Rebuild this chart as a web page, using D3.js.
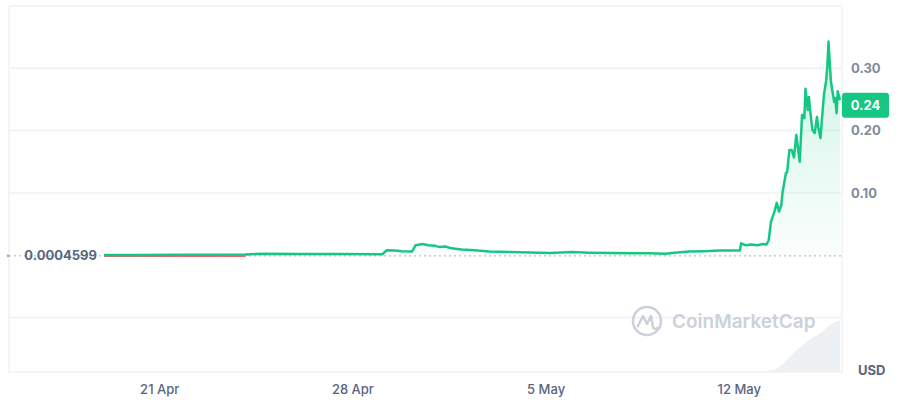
<!DOCTYPE html>
<html><head><meta charset="utf-8">
<script src="https://cdn.jsdelivr.net/npm/d3@7"></script>
<style>
html,body{margin:0;padding:0;background:#fff;}
svg{display:block;font-family:Inter,"Noto Sans",sans-serif;}
</style></head>
<body><svg id="chart" width="900" height="400"></svg>
<script>
// ---- data ----
const priceTimes = ["2024-04-19T00:00","2024-04-20T07:00","2024-04-21T18:00","2024-04-23T05:00","2024-04-24T03:00","2024-04-24T20:00","2024-04-26T02:00","2024-04-27T13:00","2024-04-29T02:00","2024-04-29T06:00","2024-04-29T13:00","2024-04-29T19:00","2024-04-30T04:00","2024-04-30T07:00","2024-04-30T13:00","2024-04-30T18:00","2024-05-01T00:00","2024-05-01T04:00","2024-05-01T09:00","2024-05-01T14:00","2024-05-01T23:00","2024-05-02T10:00","2024-05-02T23:00","2024-05-03T17:00","2024-05-04T10:00","2024-05-05T04:00","2024-05-05T23:00","2024-05-06T14:00","2024-05-07T08:00","2024-05-08T01:00","2024-05-08T18:00","2024-05-09T08:00","2024-05-09T16:00","2024-05-10T05:00","2024-05-10T18:00","2024-05-11T07:00","2024-05-12T01:00","2024-05-12T02:00","2024-05-12T06:00","2024-05-12T11:00","2024-05-12T16:00","2024-05-12T21:00","2024-05-13T00:00","2024-05-13T02:00","2024-05-13T04:00","2024-05-13T07:00","2024-05-13T09:00","2024-05-13T11:00","2024-05-13T13:00","2024-05-13T14:00","2024-05-13T17:00","2024-05-13T18:00","2024-05-13T20:00","2024-05-13T22:00","2024-05-14T00:00","2024-05-14T02:00","2024-05-14T04:00","2024-05-14T05:00","2024-05-14T07:00","2024-05-14T09:00","2024-05-14T10:00","2024-05-14T12:00","2024-05-14T13:00","2024-05-14T14:00","2024-05-14T16:00","2024-05-14T18:00","2024-05-14T20:00","2024-05-14T21:00","2024-05-14T23:00","2024-05-15T02:00","2024-05-15T04:00","2024-05-15T05:00","2024-05-15T06:00","2024-05-15T08:00","2024-05-15T09:00","2024-05-15T11:00","2024-05-15T12:00","2024-05-15T13:00","2024-05-15T14:00","2024-05-15T16:00"];
const priceValues = [0.00046,0.0005,0.0006,0.0008,0.0012,0.0025,0.002,0.0018,0.0015,0.008,0.0075,0.0065,0.006,0.016,0.018,0.016,0.015,0.013,0.014,0.011,0.009,0.008,0.006,0.005,0.0045,0.0035,0.005,0.004,0.0035,0.003,0.0032,0.0025,0.004,0.006,0.0065,0.0075,0.0075,0.019,0.016,0.017,0.016,0.018,0.017,0.024,0.054,0.070,0.084,0.070,0.081,0.100,0.132,0.133,0.169,0.169,0.157,0.193,0.164,0.150,0.225,0.220,0.267,0.233,0.254,0.233,0.201,0.196,0.222,0.206,0.188,0.257,0.281,0.303,0.343,0.281,0.268,0.246,0.252,0.228,0.263,0.249];
const volumeTimes = ["2024-04-19T00:00","2024-04-29T00:00","2024-05-12T00:00","2024-05-12T16:00","2024-05-13T06:00","2024-05-13T16:00","2024-05-14T02:00","2024-05-14T13:00","2024-05-14T22:00","2024-05-15T07:00","2024-05-15T16:00"];
const volumeValues = [0.0, 0.01, 0.02, 0.06, 0.23, 1.15, 2.5, 3.7, 4.4, 5.4, 6.0];
const yTickValues = [0.1, 0.2, 0.3];
const yTickLabels = ["0.10", "0.20", "0.30"];
const gridValues = [-0.1, 0.1, 0.2, 0.3, 0.4];
const xTickDates = ["2024-04-21T00:00","2024-04-28T00:00","2024-05-05T00:00","2024-05-12T00:00"];
const xTickLabels = ["21 Apr", "28 Apr", "5 May", "12 May"];
const openPrice = 0.0004599;
const openLabel = "0.0004599";
const lastLabel = "0.24";
const lastValue = 0.24;
const currencyLabel = "USD";
const watermark = "CoinMarketCap";

// ---- setup ----
const parse = d3.timeParse("%Y-%m-%dT%H:%M");
const price = priceTimes.map((t, i) => ({t: parse(t), v: priceValues[i]}));
const volume = volumeTimes.map((t, i) => ({t: parse(t), v: volumeValues[i]}));

const svg = d3.select("#chart");
const L = 9, R = 842, T = 6, B = 372;
const x = d3.scaleTime().domain([parse("2024-04-19T00:00"), parse("2024-05-15T16:00")]).range([104, 840]);
const y = d3.scaleLinear().domain([-0.1875, 0.4]).range([B, T]);
const yv = d3.scaleLinear().domain([0, 6]).range([B, 320]);

const GRID = "#eff2f5", GREEN = "#16c784", LABEL = "#58667e";

// frame
svg.append("line").attr("x1", L).attr("x2", L).attr("y1", T).attr("y2", B + 1).attr("stroke", GRID).attr("stroke-width", 1.5);
svg.append("line").attr("x1", R).attr("x2", R).attr("y1", T).attr("y2", B + 1).attr("stroke", GRID).attr("stroke-width", 1.5);
svg.append("g").selectAll("line").data(gridValues).join("line")
  .attr("x1", L).attr("x2", R).attr("y1", d => y(d)).attr("y2", d => y(d))
  .attr("stroke", GRID).attr("stroke-width", 1.5);
svg.append("line").attr("x1", L).attr("x2", R).attr("y1", B).attr("y2", B).attr("stroke", GRID).attr("stroke-width", 1.5);

// volume
svg.append("path").datum(volume)
  .attr("d", d3.area().x(d => x(d.t)).y0(B).y1(d => yv(d.v)).curve(d3.curveMonotoneX))
  .attr("fill", "#eef1f4");

// watermark
const wm = svg.append("g").attr("transform", "translate(647,321)");
wm.append("circle").attr("r", 14).attr("fill", "none").attr("stroke", "#cdd1da").attr("stroke-width", 2.6);
wm.append("path").attr("d", "M-9,5 L-4,-5 L0,3 L4,-5 L6,6 Q7,9 10,7").attr("fill", "none").attr("stroke", "#cdd1da").attr("stroke-width", 2.6).attr("stroke-linejoin", "round").attr("stroke-linecap", "round");
svg.append("text").attr("x", 672).attr("y", 328).text(watermark)
  .attr("font-size", 19).attr("font-weight", 600).attr("fill", "#cdd1da");

// area fill
const grad = svg.append("defs").append("linearGradient").attr("id", "g1")
  .attr("gradientUnits", "userSpaceOnUse").attr("x1", 0).attr("x2", 0).attr("y1", y(0.34)).attr("y2", y(0));
grad.append("stop").attr("offset", 0).attr("stop-color", GREEN).attr("stop-opacity", 0.2);
grad.append("stop").attr("offset", 1).attr("stop-color", GREEN).attr("stop-opacity", 0.02);
svg.append("path").datum(price)
  .attr("d", d3.area().x(d => x(d.t)).y0(y(openPrice)).y1(d => y(d.v)))
  .attr("fill", "url(#g1)");

// baseline dotted
svg.append("line").attr("x1", L).attr("x2", R).attr("y1", y(openPrice) + 1).attr("y2", y(openPrice) + 1)
  .attr("stroke", "#a6b0c3").attr("stroke-width", 1).attr("stroke-dasharray", "2,3");
svg.append("circle").attr("cx", 8).attr("cy", y(openPrice) + 1).attr("r", 1.3).attr("fill", "#a6b0c3");

// red under-segment for the flat start
svg.append("path").datum(price.filter(d => d.t <= parse("2024-04-24T03:00")))
  .attr("d", d3.line().x(d => x(d.t)).y(d => y(openPrice) + 1.2))
  .attr("fill", "none").attr("stroke", "#ea3943").attr("stroke-width", 1.2);

// price line
svg.append("path").datum(price)
  .attr("d", d3.line().x(d => x(d.t)).y(d => y(d.v)))
  .attr("fill", "none").attr("stroke", GREEN).attr("stroke-width", 2.5).attr("stroke-linejoin", "round");

// open label
svg.append("text").attr("x", 97).attr("y", y(openPrice)).attr("dy", "0.36em").attr("text-anchor", "end")
  .text(openLabel).attr("font-size", 13).attr("font-weight", 700).attr("fill", LABEL);

// right y labels
svg.append("g").selectAll("text").data(yTickValues).join("text")
  .attr("x", 851).attr("y", d => y(d)).attr("dy", "0.36em")
  .text((d, i) => yTickLabels[i]).attr("font-size", 13).attr("font-weight", 700).attr("fill", "#808a9d");

// last price badge
const by = y(lastValue);
svg.append("rect").attr("x", 842).attr("y", by - 13).attr("width", 47).attr("height", 25).attr("rx", 3).attr("fill", GREEN);
svg.append("text").attr("x", 865.5).attr("y", by).attr("dy", "0.36em").attr("text-anchor", "middle")
  .text(lastLabel).attr("font-size", 13).attr("font-weight", 700).attr("fill", "#fff");

// x axis
const xAxis = d3.axisBottom(x).tickValues(xTickDates.map(parse))
  .tickFormat((d, i) => xTickLabels[i]).tickSize(0).tickPadding(0);
const gx = svg.append("g").attr("transform", "translate(0,385)").call(xAxis);
gx.select(".domain").remove();
gx.selectAll("text").attr("font-size", 13).attr("font-weight", 500).attr("fill", LABEL).attr("font-family", "Inter, sans-serif");

// currency
svg.append("text").attr("x", 858).attr("y", 375).text(currencyLabel)
  .attr("font-size", 13).attr("font-weight", 700).attr("fill", LABEL);
</script></body></html>
